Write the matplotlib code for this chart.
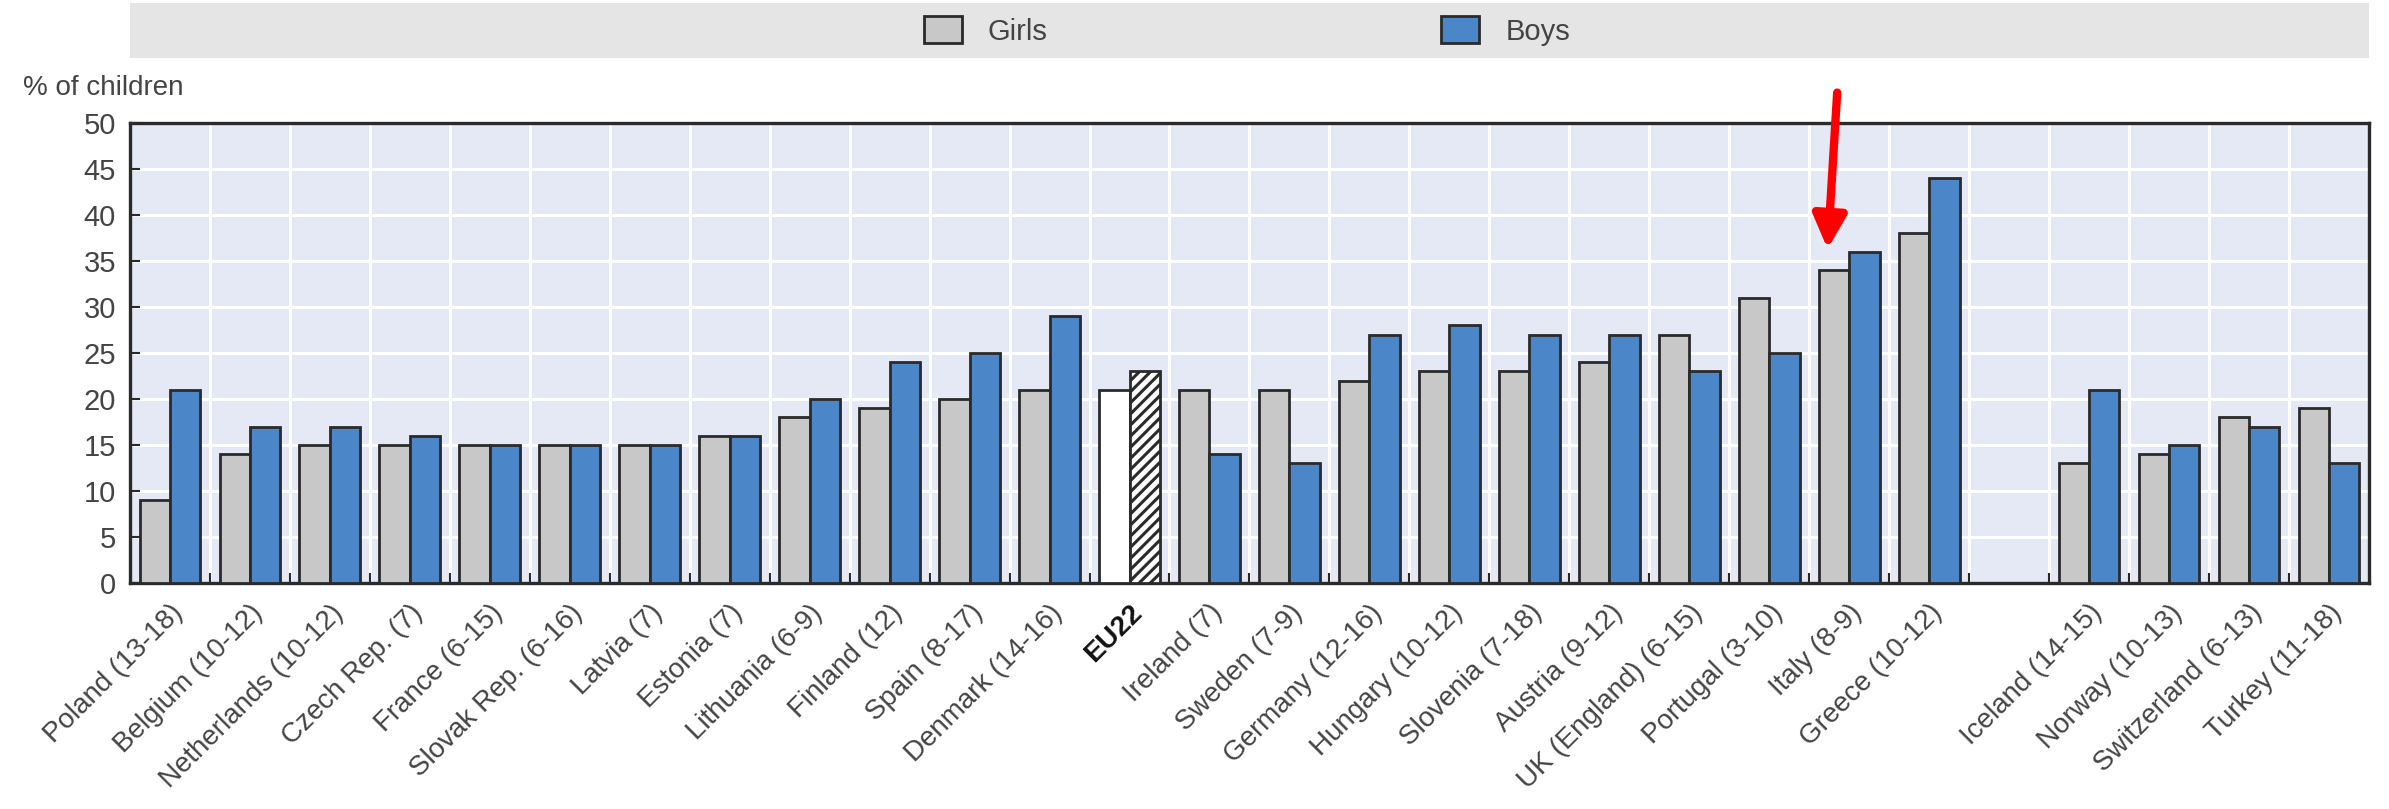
import numpy as np
import matplotlib
matplotlib.use("Agg")
from matplotlib import pyplot as plt
from matplotlib.patches import Patch, Rectangle

plt.rcParams['font.family'] = ['Liberation Sans', 'DejaVu Sans']
plt.rcParams['hatch.linewidth'] = 2.2

# EU countries (with the EU22 average), then the non-EU group after a gap
eu_countries = ["Poland (13-18)", "Belgium (10-12)", "Netherlands (10-12)", "Czech Rep. (7)",
                "France (6-15)", "Slovak Rep. (6-16)", "Latvia (7)", "Estonia (7)",
                "Lithuania (6-9)", "Finland (12)", "Spain (8-17)", "Denmark (14-16)",
                "EU22", "Ireland (7)", "Sweden (7-9)", "Germany (12-16)", "Hungary (10-12)",
                "Slovenia (7-18)", "Austria (9-12)", "UK (England) (6-15)", "Portugal (3-10)",
                "Italy (8-9)", "Greece (10-12)"]
eu_girls = [9, 14, 15, 15, 15, 15, 15, 16, 18, 19, 20, 21, 21, 21, 21, 22, 23, 23, 24, 27, 31, 34, 38]
eu_boys = [21, 17, 17, 16, 15, 15, 15, 16, 20, 24, 25, 29, 23, 14, 13, 27, 28, 27, 27, 23, 25, 36, 44]

other_countries = ["Iceland (14-15)", "Norway (10-13)", "Switzerland (6-13)", "Turkey (11-18)"]
other_girls = [13, 14, 18, 19]
other_boys = [21, 15, 17, 13]

labels = eu_countries + other_countries
girls = np.array(eu_girls + other_girls)
boys = np.array(eu_boys + other_boys)
x = np.concatenate([np.arange(len(eu_countries)),
                    len(eu_countries) + 1 + np.arange(len(other_countries))])
n_slots = len(eu_countries) + 1 + len(other_countries)

grey = "#c8c8c8"
blue = "#4a86c8"
edge = "#2a2a2a"
txt = "#444444"

fig = plt.figure(figsize=(23.89, 8.09), dpi=100)
ax = fig.add_axes([0.0544, 0.2794, 0.9372, 0.5686])
ax.set_facecolor("#e4e9f5")

w = 0.38
gb = ax.bar(x - w / 2, girls, w, color=grey, edgecolor=edge, linewidth=2, zorder=3)
bb = ax.bar(x + w / 2, boys, w, color=blue, edgecolor=edge, linewidth=2, zorder=3)

# EU22 average: white girls bar, hatched boys bar
eu_idx = labels.index("EU22")
gb[eu_idx].set_facecolor("white")
bb[eu_idx].set_facecolor("white")
bb[eu_idx].set_hatch("///")

ax.set_xlim(-0.5, n_slots - 0.5)
ax.set_ylim(0, 50)
ax.set_yticks(np.arange(0, 51, 5))
ax.set_xticks(x)
ax.set_xticklabels(labels, rotation=45, ha="right", va="top", rotation_mode="anchor")
ax.set_xticks(np.arange(0.5, n_slots - 1, 1), minor=True)
ax.tick_params(axis="x", which="major", length=0, pad=12, labelsize=20, labelcolor=txt)
ax.tick_params(axis="x", which="minor", direction="in", length=7, width=1.5, color=edge)
ax.tick_params(axis="y", direction="in", length=7, width=1.5, color=edge, labelsize=21,
               labelcolor=txt, pad=10)
for lab in ax.get_xticklabels():
    if lab.get_text() == "EU22":
        lab.set_fontweight("bold")
        lab.set_color("#111111")

ax.grid(True, axis="y", color="white", linewidth=2.2, zorder=0)
ax.grid(True, axis="x", which="minor", color="white", linewidth=2.2, zorder=0)
ax.set_axisbelow(True)
for s in ax.spines.values():
    s.set_color(edge)
    s.set_linewidth(2.4)

fig.text(23 / 2389, 1 - 88 / 809, "% of children", fontsize=20, color=txt,
         ha="left", va="center")

# legend band across the top
fig.patches.append(Rectangle((0.0544, 1 - 58 / 809), 0.9372, 55 / 809,
                             transform=fig.transFigure, facecolor="#e5e5e5",
                             edgecolor="none", zorder=0))
handles = [Patch(facecolor=grey, edgecolor=edge, linewidth=2, label="Girls"),
           Patch(facecolor=blue, edgecolor=edge, linewidth=2, label="Boys")]
leg = fig.legend(handles=handles, loc="center", bbox_to_anchor=(0.522, 1 - 31 / 809),
                 ncol=2, frameon=False, fontsize=21, handlelength=1.3, handleheight=1.0,
                 handletextpad=0.9, columnspacing=13.5)
for t in leg.get_texts():
    t.set_color(txt)

# arrow pointing at Italy
it = labels.index("Italy (8-9)")
ax.annotate("", xy=(x[it] - 0.27, girls[it] + 2.3), xytext=(x[it] - 0.15, 53.3),
            arrowprops=dict(arrowstyle="-|>,head_width=1.0,head_length=2.0",
                            color="#ff0000", lw=6, shrinkA=0, shrinkB=0),
            annotation_clip=False, zorder=5)

fig.savefig("out.png", dpi=100)
